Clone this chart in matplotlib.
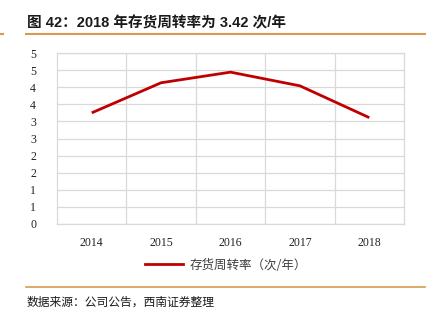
import matplotlib
matplotlib.use("Agg")
import matplotlib.pyplot as plt
from matplotlib.lines import Line2D
from matplotlib.ticker import FuncFormatter, MultipleLocator

plt.rcParams['font.family'] = ['Noto Sans CJK SC', 'DejaVu Sans']

years = ['2014', '2015', '2016', '2017', '2018']
turnover = [3.25, 4.13, 4.44, 4.04, 3.11]

title = '图 42：2018 年存货周转率为 3.42 次/年'
series_name = '存货周转率（次/年）'
source = '数据来源：公司公告，西南证券整理'

W, H = 435, 322
fig = plt.figure(figsize=(W / 100, H / 100), dpi=100)

# plot area in pixels: x 57..404, y 53..224
ax = fig.add_axes([57 / W, 1 - 224 / H, (404 - 57) / W, (224 - 53) / H])
x = list(range(len(years)))
ax.plot(x, turnover, color='#C00000', lw=2, solid_capstyle='butt')
ax.set_xlim(-0.5, len(years) - 0.5)
ax.set_ylim(0, 5)
ax.yaxis.set_major_locator(MultipleLocator(0.5))
ax.yaxis.set_major_formatter(FuncFormatter(lambda v, p: '%d' % int(v + 0.5)))
ax.set_xticks(x)
ax.set_xticklabels(years)
ax.set_xticks([i + 0.5 for i in x[:-1]], minor=True)
ax.grid(axis='y', which='major', color='#D9D9D9', lw=0.9)
ax.grid(axis='x', which='minor', color='#D9D9D9', lw=0.9)
ax.tick_params(which='both', length=0)
ax.tick_params(axis='y', pad=15)
ax.tick_params(axis='x', pad=9)
for lab in ax.get_xticklabels() + ax.get_yticklabels():
    lab.set_fontfamily('Liberation Serif')
    lab.set_fontsize(8.5)
    lab.set_color('#222222')
for s in ax.spines.values():
    s.set_color('#D9D9D9')
    s.set_linewidth(0.9)
ax.set_axisbelow(True)

# legend
handle = Line2D([], [], color='#C00000', lw=2)
leg = fig.legend([handle], [series_name], loc='center', bbox_to_anchor=(226 / W, 1 - 265 / H),
                 frameon=False, handlelength=3.0, handletextpad=0.5,
                 prop={'family': ['Noto Sans CJK SC'], 'size': 9})
for t in leg.get_texts():
    t.set_color('#404040')

# title and rules
fig.text(27 / W, 1 - 23 / H, title, fontsize=10.5, fontweight='bold', va='center', ha='left',
         color='#1a1a1a', family=['Liberation Sans', 'Noto Sans CJK SC'])
orange = '#D89A4E'
fig.add_artist(Line2D([26 / W, 425 / W], [1 - 34 / H, 1 - 34 / H], color=orange, lw=1.5))
fig.add_artist(Line2D([0, 3 / W], [1 - 34 / H, 1 - 34 / H], color=orange, lw=1.5))
fig.add_artist(Line2D([26 / W, 425 / W], [1 - 287 / H, 1 - 287 / H], color=orange, lw=1.2))
fig.text(27 / W, 1 - 302 / H, source, fontsize=8.5, style='italic', va='center', ha='left', color='#1a1a1a')

fig.savefig('out.png', dpi=100)
